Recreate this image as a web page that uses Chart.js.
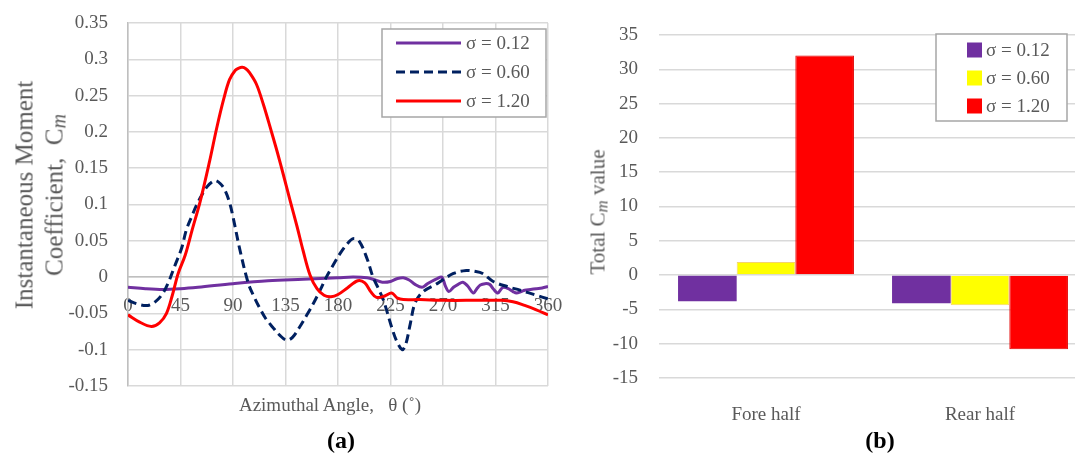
<!DOCTYPE html>
<html lang="en">
<head>
<meta charset="UTF-8">
<title>Moment coefficient: (a) instantaneous, (b) total</title>
<script src="https://cdn.jsdelivr.net/npm/chart.js@4.4.1/dist/chart.umd.min.js"></script>
<style>
    html, body {
        margin: 0;
        padding: 0;
        background: #fff;
        overflow: hidden;
    }
    .page {
        position: relative;
        width: 1075px;
        height: 458px;
        overflow: hidden;
        font-family: 'Liberation Serif', serif;
        color: #595959;
    }
    canvas { position: absolute; top: 0; }
    #chartA { left: 0; }
    #chartB { left: 560px; }
    .lbl {
        position: absolute;
        transform: translate(-50%, -50%);
        white-space: nowrap;
    }
    .rot { transform: translate(-50%, -50%) rotate(-90deg); text-align: center; }
    .cap { color: #000; font-weight: bold; font-size: 24px; }
    .sub { font-style: italic; font-size: 0.8em; position: relative; top: 0.15em; }
</style>
</head>
<body>
<div class="page">
    <canvas id="chartA" width="580" height="420"></canvas>
    <canvas id="chartB" width="540" height="458"></canvas>

    <div class="lbl rot" style="left:40px; top:195px; font-size:25px; line-height:30px;">
        Instantaneous Moment<br>Coefficient,&nbsp; C<span class="sub">m</span>
    </div>
    <div class="lbl" style="left:330px; top:405px; font-size:19px;">Azimuthal Angle,&nbsp;&nbsp; θ (˚)</div>
    <div class="lbl cap" style="left:341px; top:440px;">(a)</div>

    <div class="lbl rot" style="left:598px; top:212px; font-size:21px;">Total C<span class="sub">m</span> value</div>
    <div class="lbl cap" style="left:880px; top:440px;">(b)</div>
</div>

<script>
    // --- (a) instantaneous moment coefficient vs azimuthal angle ---
    const thetaLow = [0, 15, 30, 45, 60, 90, 120, 150, 180, 193, 205, 212, 218, 225, 231, 236, 241, 246, 252, 256,
        260, 265, 269, 272, 275, 279, 283, 287, 291, 296, 299, 302, 306, 310, 313, 317, 320, 322, 326, 330,
        333, 337, 340, 345, 350, 355, 360];
    const cmLow = [-0.014, -0.016, -0.017, -0.016, -0.014, -0.009, -0.005, -0.003, -0.001, 0, -0.001, -0.004, -0.007, -0.006,
        -0.002, -0.001, -0.004, -0.01, -0.014, -0.01, -0.006, -0.002, 0, -0.012, -0.02, -0.014, -0.01, -0.007,
        -0.012, -0.022, -0.016, -0.011, -0.009, -0.01, -0.016, -0.022, -0.016, -0.014, -0.016, -0.02, -0.022,
        -0.02, -0.018, -0.017, -0.016, -0.015, -0.013];

    const thetaMid = [0, 8, 17, 24, 30, 35, 40, 46, 50, 55, 59, 64, 68, 72, 75, 79, 83, 87, 90, 96, 103, 108, 113,
        118, 124, 130, 136, 141, 147, 153, 159, 165, 170, 176, 182, 188, 193, 198, 205, 210, 215, 219, 226,
        230, 235, 238, 242, 246, 253, 265, 279, 290, 297, 304, 313, 325, 336, 350, 360];
    const cmMid = [-0.032, -0.037, -0.039, -0.033, -0.022, -0.006, 0.015, 0.04, 0.065, 0.085, 0.1, 0.115, 0.125, 0.131,
        0.133, 0.129, 0.12, 0.103, 0.083, 0.037, -0.008, -0.027, -0.043, -0.057, -0.069, -0.08, -0.087, -0.083,
        -0.069, -0.053, -0.036, -0.017, 0, 0.017, 0.033, 0.046, 0.053, 0.05, 0.025, 0, -0.017, -0.032, -0.069,
        -0.087, -0.1, -0.093, -0.064, -0.036, -0.02, -0.009, 0.005, 0.009, 0.008, 0.005, -0.006, -0.013, -0.018,
        -0.025, -0.03];

    const thetaHigh = [0, 10, 20, 27, 33, 38, 43, 49, 55, 62, 70, 76, 82, 87, 92, 95, 98, 101, 104, 110, 116, 123,
        128, 133, 139, 145, 150, 156, 162, 168, 174, 180, 188, 197, 203, 208, 213, 220, 226, 231, 236, 250, 270,
        300, 320, 330, 340, 350, 360];
    const cmHigh = [-0.052, -0.062, -0.068, -0.063, -0.05, -0.025, 0.005, 0.03, 0.065, 0.105, 0.16, 0.205, 0.245, 0.272,
        0.285, 0.288, 0.289, 0.287, 0.282, 0.266, 0.238, 0.2, 0.172, 0.142, 0.105, 0.069, 0.037, 0.003, -0.016,
        -0.025, -0.027, -0.024, -0.015, -0.005, -0.008, -0.02, -0.028, -0.026, -0.022, -0.029, -0.031, -0.031,
        -0.032, -0.032, -0.032, -0.034, -0.039, -0.045, -0.052];

    // --- (b) total moment coefficient per half ---
    const halves = ['Fore half', 'Rear half'];
    const totalLow = [-3.8, -4.1];
    const totalMid = [1.9, -4.4];
    const totalHigh = [32, -10.8];

    const seriesNames = ['σ = 0.12', 'σ = 0.60', 'σ = 1.20'];

    const FONT = 'Liberation Serif';
    const TXT = '#595959';
    const GRID = '#d9d9d9';

    const toPts = (xs, ys) => xs.map((x, i) => ({ x: x, y: ys[i] }));

    // legend drawn as a boxed overlay inside the plot, like the original
    const boxLegend = {
        id: 'boxLegend',
        afterDraw(chart, args, o) {
            const ctx = chart.ctx;
            ctx.save();
            ctx.fillStyle = '#fff';
            ctx.fillRect(o.x, o.y, o.w, o.h);
            ctx.strokeStyle = '#a6a6a6';
            ctx.lineWidth = 1.5;
            ctx.strokeRect(o.x, o.y, o.w, o.h);
            ctx.font = '19px "' + FONT + '"';
            ctx.textBaseline = 'middle';
            chart.data.datasets.forEach((ds, i) => {
                const cy = o.y + o.first + i * o.gap;
                if (o.kind === 'line') {
                    ctx.beginPath();
                    ctx.setLineDash(ds.borderDash || []);
                    ctx.strokeStyle = ds.borderColor;
                    ctx.lineWidth = ds.borderWidth;
                    ctx.moveTo(o.x + o.sx, cy);
                    ctx.lineTo(o.x + o.sx + o.sw, cy);
                    ctx.stroke();
                    ctx.setLineDash([]);
                } else {
                    ctx.fillStyle = ds.backgroundColor;
                    ctx.fillRect(o.x + o.sx, cy - 7.5, 15, 15);
                }
                ctx.fillStyle = TXT;
                ctx.fillText(ds.label, o.x + o.tx, cy + 1);
            });
            ctx.restore();
        }
    };

    // keep first/last tick labels from shrinking the plot area
    const noOverflow = s => {
        s.paddingLeft = 0; s.paddingRight = 0; s.paddingTop = 0; s.paddingBottom = 0;
    };

    new Chart(document.getElementById('chartA'), {
        type: 'line',
        data: {
            datasets: [
                { label: seriesNames[0], data: toPts(thetaLow, cmLow), borderColor: '#7030a0', borderWidth: 3, order: 3 },
                { label: seriesNames[1], data: toPts(thetaMid, cmMid), borderColor: '#002060', borderWidth: 3, borderDash: [9, 5], order: 2 },
                { label: seriesNames[2], data: toPts(thetaHigh, cmHigh), borderColor: '#ff0000', borderWidth: 3, order: 1 }
            ]
        },
        options: {
            responsive: false,
            animation: false,
            elements: { point: { radius: 0 }, line: { fill: false, tension: 0.35 } },
            layout: { padding: { left: 0, right: 32, top: 23, bottom: 34 } },
            scales: {
                x: {
                    type: 'linear',
                    position: { y: 0 },
                    min: 0, max: 360,
                    afterFit: noOverflow,
                    ticks: { stepSize: 45, padding: 18, color: TXT, font: { family: FONT, size: 19 } },
                    grid: { color: GRID, lineWidth: 1.5, drawTicks: false },
                    border: { color: '#bfbfbf', width: 1.5 }
                },
                y: {
                    min: -0.15, max: 0.35,
                    afterFit: s => { noOverflow(s); s.width = 128; },
                    ticks: {
                        stepSize: 0.05, padding: 20, color: TXT, font: { family: FONT, size: 19 },
                        callback: v => String(Math.round(v * 100) / 100)
                    },
                    grid: { color: GRID, lineWidth: 1.5, drawTicks: false },
                    border: { color: '#bfbfbf', width: 1.5 }
                }
            },
            plugins: {
                legend: { display: false },
                tooltip: { enabled: false },
                boxLegend: { kind: 'line', x: 382, y: 29, w: 164, h: 88, first: 14, gap: 29, sx: 14, sw: 65, tx: 84 }
            }
        },
        plugins: [boxLegend]
    });

    new Chart(document.getElementById('chartB'), {
        type: 'bar',
        data: {
            labels: halves,
            datasets: [
                { label: seriesNames[0], data: totalLow, backgroundColor: '#7030a0' },
                { label: seriesNames[1], data: totalMid, backgroundColor: '#ffff00', borderColor: '#f5d36b', borderWidth: 1 },
                { label: seriesNames[2], data: totalHigh, backgroundColor: '#ff0000', borderColor: '#e00000', borderWidth: 1 }
            ]
        },
        options: {
            responsive: false,
            animation: false,
            layout: { padding: { left: 0, right: 13, top: 35, bottom: 0 } },
            datasets: { bar: { categoryPercentage: 0.822, barPercentage: 1 } },
            scales: {
                x: {
                    afterFit: s => { noOverflow(s); s.height = 80; },
                    ticks: { padding: 18, color: TXT, font: { family: FONT, size: 19 } },
                    grid: { display: false },
                    border: { display: false }
                },
                y: {
                    min: -15, max: 35,
                    afterFit: s => { noOverflow(s); s.width = 99; },
                    ticks: { stepSize: 5, padding: 21, color: TXT, font: { family: FONT, size: 19 } },
                    grid: { color: GRID, lineWidth: 1.5, drawTicks: false },
                    border: { display: false }
                }
            },
            plugins: {
                legend: { display: false },
                tooltip: { enabled: false },
                boxLegend: { kind: 'box', x: 376, y: 34, w: 131, h: 87, first: 16, gap: 28, sx: 31, tx: 50 }
            }
        },
        plugins: [boxLegend]
    });
</script>
</body>
</html>
